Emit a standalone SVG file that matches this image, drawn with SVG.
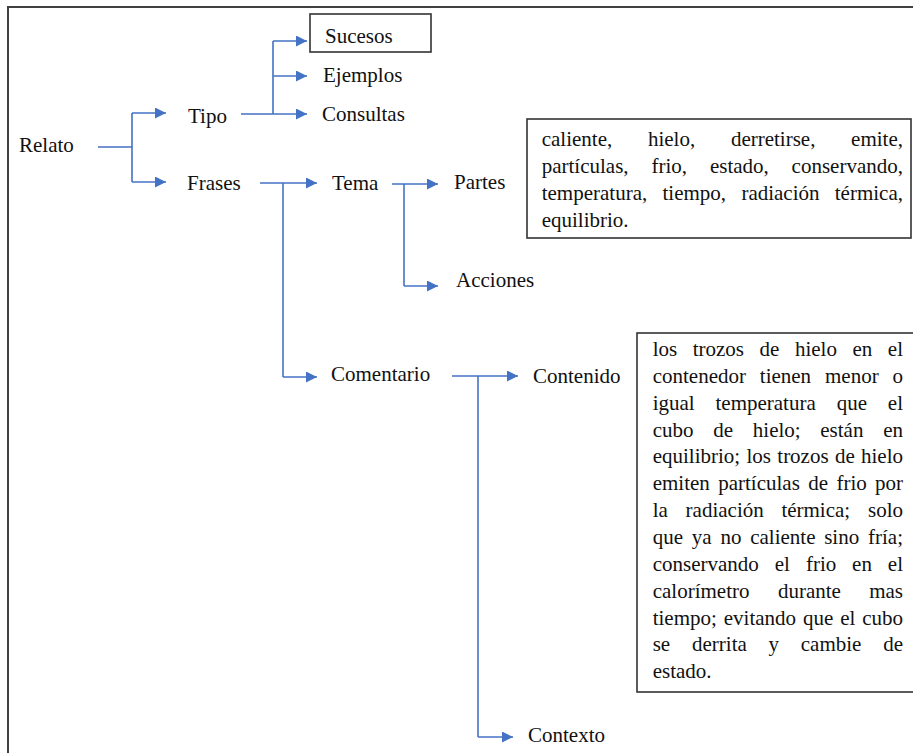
<svg xmlns="http://www.w3.org/2000/svg" width="913" height="753" viewBox="0 0 913 753">
<defs>
<marker id="ah" markerUnits="userSpaceOnUse" markerWidth="12" markerHeight="12" refX="11" refY="5.5" orient="auto">
<path d="M0,0 L11,5.5 L0,11 z" fill="#4472C4"/>
</marker>
<style>
text{font-family:"Liberation Serif","Times New Roman",serif;font-size:21px;fill:#111}
.e{text-anchor:end}
.c{fill:none;stroke:#4472C4;stroke-width:1.6}
.a{marker-end:url(#ah)}
.b{fill:#fff;stroke:#333;stroke-width:1.6}
</style>
</defs>
<rect width="913" height="753" fill="#fff"/>
<path d="M8,753 V7 H913" fill="none" stroke="#404040" stroke-width="2"/>

<g id="connectors">
<path class="c" d="M98,147 H132 M132,113 V182"/>
<path class="c a" d="M132,113 H166"/>
<path class="c a" d="M132,182 H166"/>
<path class="c" d="M241,114 H273 M273,41 V114"/>
<path class="c a" d="M273,41 H307"/>
<path class="c a" d="M273,76 H307"/>
<path class="c a" d="M273,114 H307"/>
<path class="c a" d="M260,183 H317"/>
<path class="c" d="M283,183 V377"/>
<path class="c a" d="M283,377 H317"/>
<path class="c a" d="M392,184 H438"/>
<path class="c" d="M404,184 V286"/>
<path class="c a" d="M404,286 H438"/>
<path class="c a" d="M452,376 H518"/>
<path class="c" d="M478,376 V737"/>
<path class="c a" d="M478,737 H513"/>
</g>

<g id="relato"><text x="19" y="152">Relato</text></g>
<g id="tipo"><text x="188" y="123">Tipo</text></g>
<g id="frases"><text x="187" y="190">Frases</text></g>
<g id="sucesos"><rect class="b" x="310" y="14" width="121" height="38"/><text x="325" y="43">Sucesos</text></g>
<g id="ejemplos"><text x="323" y="82">Ejemplos</text></g>
<g id="consultas"><text x="322" y="121">Consultas</text></g>
<g id="tema"><text x="332" y="190">Tema</text></g>
<g id="partes"><text x="454" y="189">Partes</text></g>
<g id="acciones"><text x="456" y="287">Acciones</text></g>
<g id="comentario"><text x="331" y="381">Comentario</text></g>
<g id="contenido"><text x="533" y="383">Contenido</text></g>
<g id="contexto"><text x="528" y="742">Contexto</text></g>

<g id="palabras">
<rect class="b" x="527" y="119" width="384" height="119"/>
<text y="146"><tspan x="541.7">caliente,</tspan><tspan x="647.9">hielo,</tspan><tspan x="730.9">derretirse,</tspan></text>
<text class="e" x="903" y="146">emite,</text>
<text y="173"><tspan x="541.7">partículas,</tspan><tspan x="651.4">frio,</tspan><tspan x="709.9">estado,</tspan></text>
<text class="e" x="903" y="173">conservando,</text>
<text y="200"><tspan x="541.7">temperatura,</tspan><tspan x="662.5">tiempo,</tspan><tspan x="741.4">radiación</tspan></text>
<text class="e" x="903" y="200">térmica,</text>
<text x="541.7" y="227">equilibrio.</text>
</g>

<g id="descripcion">
<rect class="b" x="637" y="333" width="280" height="359"/>
<text y="356"><tspan x="652.7">los</tspan><tspan x="692.7">trozos</tspan><tspan x="759.6">de</tspan><tspan x="794.9">hielo</tspan><tspan x="852.5">en</tspan></text>
<text class="e" x="903" y="356">el</text>
<text y="382.85"><tspan x="652.7">contenedor</tspan><tspan x="759.8">tienen</tspan><tspan x="825">menor</tspan></text>
<text class="e" x="903" y="382.85">o</text>
<text y="409.7"><tspan x="652.7">igual</tspan><tspan x="715.5">temperatura</tspan><tspan x="836.7">que</tspan></text>
<text class="e" x="903" y="409.7">el</text>
<text y="436.55"><tspan x="652.7">cubo</tspan><tspan x="713.2">de</tspan><tspan x="752.8">hielo;</tspan><tspan x="820.3">están</tspan></text>
<text class="e" x="903" y="436.55">en</text>
<text y="463.4"><tspan x="652.7">equilibrio;</tspan><tspan x="746.5">los</tspan><tspan x="777.3">trozos</tspan><tspan x="834.9">de</tspan></text>
<text class="e" x="903" y="463.4">hielo</text>
<text y="490.25"><tspan x="652.7">emiten</tspan><tspan x="718.2">partículas</tspan><tspan x="808.2">de</tspan><tspan x="836.4">frio</tspan></text>
<text class="e" x="903" y="490.25">por</text>
<text y="517.1"><tspan x="652.7">la</tspan><tspan x="685.6">radiación</tspan><tspan x="781.4">térmica;</tspan></text>
<text class="e" x="903" y="517.1">solo</text>
<text y="543.95"><tspan x="652.7">que</tspan><tspan x="691.8">ya</tspan><tspan x="720.4">no</tspan><tspan x="750.2">caliente</tspan><tspan x="824.2">sino</tspan></text>
<text class="e" x="903" y="543.95">fría;</text>
<text y="570.8"><tspan x="652.7">conservando</tspan><tspan x="774.8">el</tspan><tspan x="805.9">frio</tspan><tspan x="852.1">en</tspan></text>
<text class="e" x="903" y="570.8">el</text>
<text y="597.65"><tspan x="652.7">calorímetro</tspan><tspan x="777.9">durante</tspan></text>
<text class="e" x="903" y="597.65">mas</text>
<text y="624.5"><tspan x="652.7">tiempo;</tspan><tspan x="723.8">evitando</tspan><tspan x="803">que</tspan><tspan x="840.2">el</tspan></text>
<text class="e" x="903" y="624.5">cubo</text>
<text y="651.35"><tspan x="652.7">se</tspan><tspan x="692">derrita</tspan><tspan x="768.5">y</tspan><tspan x="800.8">cambie</tspan></text>
<text class="e" x="903" y="651.35">de</text>
<text x="652.7" y="678.2">estado.</text>
</g>
</svg>
